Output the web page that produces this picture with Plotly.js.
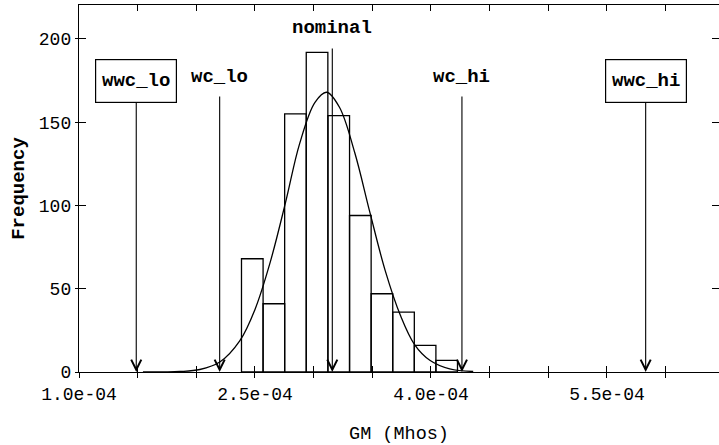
<!DOCTYPE html>
<html>
<head>
<meta charset="utf-8">
<script src="https://cdn.plot.ly/plotly-3.0.1.min.js"></script>
<style>
html,body{margin:0;padding:0;background:#fff;}
#chart{width:719px;height:445px;}
</style>
</head>
<body>
<div id="chart"></div>
<script>
// Histogram bins (GM in Mhos) and counts
const binCenters = [2.477e-4, 2.661e-4, 2.845e-4, 3.029e-4, 3.214e-4, 3.398e-4, 3.582e-4, 3.766e-4, 3.950e-4, 4.134e-4];
const binCounts  = [68, 41, 155, 192, 154, 94, 47, 36, 16, 7];
const binWidth = 1.841e-5;

// Fitted curve points
const curveX = [1.545e-4, 1.86e-4, 2.03e-4, 2.20e-4, 2.37e-4, 2.50e-4, 2.63e-4, 2.76e-4, 2.88e-4, 3.01e-4, 3.11e-4, 3.22e-4, 3.35e-4, 3.48e-4, 3.61e-4, 3.74e-4, 3.86e-4, 3.99e-4, 4.16e-4, 4.36e-4];
const curveY = [0.0, 0.3, 1.5, 6.0, 18.7, 37.6, 66.0, 101.7, 137.0, 161.8, 168.0, 159.0, 131.8, 95.7, 60.9, 33.9, 16.5, 7.1, 1.9, 0.3];

// Limit markers
const markerNames  = ["wwc_lo", "wc_lo", "nominal", "wc_hi", "wwc_hi"];
const markerValues = [1.488e-4, 2.199e-4, 3.159e-4, 4.264e-4, 5.83e-4];
const markerBoxed  = [true, false, false, false, true];

// Axis ticks
const xTickVals = [1.0e-4, 2.5e-4, 4.0e-4, 5.5e-4];
const xTickText = ["1.0e-04", "2.5e-04", "4.0e-04", "5.5e-04"];
const yTickVals = [0, 50, 100, 150, 200];

const FONT = '"Liberation Mono", "Courier New", monospace';
const xRange = [1.0e-4, 6.455e-4];
const yRange = [0, 220.4];

const traces = [
  {
    type: 'bar', x: binCenters, y: binCounts, width: binWidth,
    marker: {color: 'rgba(255,255,255,0)', line: {color: '#000', width: 1.3}},
    xaxis: 'x', yaxis: 'y', hoverinfo: 'x+y', showlegend: false
  },
  {
    type: 'scatter', mode: 'lines', x: curveX, y: curveY,
    line: {color: '#000', width: 1.3, shape: 'spline', smoothing: 1},
    xaxis: 'x', yaxis: 'y', showlegend: false, cliponaxis: false
  }
];

const tailY = {"wwc_lo": -291, "wc_lo": -295, "nominal": -344, "wc_hi": -295, "wwc_hi": -291};
const startGap = {"wwc_lo": 0, "wc_lo": 7, "nominal": 8, "wc_hi": 7, "wwc_hi": 0};
const annotations = markerNames.map((n, i) => {
  const a = {
    x: markerValues[i], y: 0, xref: 'x', yref: 'y',
    text: n, showarrow: true, arrowhead: 5, arrowsize: 1.8, arrowwidth: 1.1,
    arrowcolor: '#000', ax: 0, ay: tailY[n], axref: 'pixel', ayref: 'pixel',
    font: {family: FONT, size: 19, color: '#000', weight: 'bold'},
    standoff: 0, startstandoff: startGap[n]
  };
  if (markerBoxed[i]) {
    a.bordercolor = '#000'; a.borderwidth = 1.2; a.bgcolor = '#fff';
    a.width = 78; a.height = 40;
  }
  return a;
});

const layout = {
  width: 719, height: 445,
  margin: {l: 79, r: 0, t: 5, b: 73},
  paper_bgcolor: '#fff', plot_bgcolor: '#fff',
  font: {family: FONT, color: '#000', size: 18},
  bargap: 0,
  xaxis: {
    range: xRange, tickmode: 'array', tickvals: xTickVals, ticktext: xTickText,
    ticks: 'outside', ticklen: 5, tickwidth: 1, tickcolor: '#000',
    minor: {tick0: 1.0e-4, dtick: 0.5e-4, ticks: 'outside', ticklen: 5, tickwidth: 1, tickcolor: '#000'},
    showline: true, linecolor: '#000', linewidth: 1.2, mirror: true,
    showgrid: false, zeroline: false,
    tickfont: {family: FONT, size: 18, color: '#000'},
    title: {text: 'GM (Mhos)', font: {family: FONT, size: 18.5, color: '#000'}, standoff: 30}
  },
  xaxis2: {
    range: xRange, overlaying: 'x', side: 'bottom',
    tickmode: 'linear', tick0: 1.0e-4, dtick: 0.5e-4,
    ticks: 'inside', ticklen: 6, tickwidth: 1, tickcolor: '#000', mirror: 'ticks',
    showticklabels: false, showline: false, showgrid: false, zeroline: false
  },
  yaxis: {
    range: yRange, tickmode: 'array', tickvals: yTickVals,
    ticks: 'outside', ticklen: 3, tickwidth: 1, tickcolor: '#000',
    showline: true, linecolor: '#000', linewidth: 1.2, mirror: true,
    showgrid: false, zeroline: false,
    tickfont: {family: FONT, size: 18, color: '#000'},
    title: {text: 'Frequency', font: {family: FONT, size: 19, color: '#000', weight: 'bold'}, standoff: 9}
  },
  yaxis2: {
    range: yRange, overlaying: 'y', side: 'left',
    tickmode: 'array', tickvals: yTickVals,
    ticks: 'inside', ticklen: 7, tickwidth: 1, tickcolor: '#000', mirror: 'ticks',
    showticklabels: false, showline: false, showgrid: false, zeroline: false
  },
  annotations: annotations
};

// invisible helper trace so the overlay (crossing-tick) axes render
traces.push({type: 'scatter', x: [xRange[0]], y: [0], xaxis: 'x2', yaxis: 'y2', mode: 'markers', marker: {opacity: 0}, showlegend: false, hoverinfo: 'skip'});

Plotly.newPlot('chart', traces, layout, {displayModeBar: false, staticPlot: true});
</script>
</body>
</html>
